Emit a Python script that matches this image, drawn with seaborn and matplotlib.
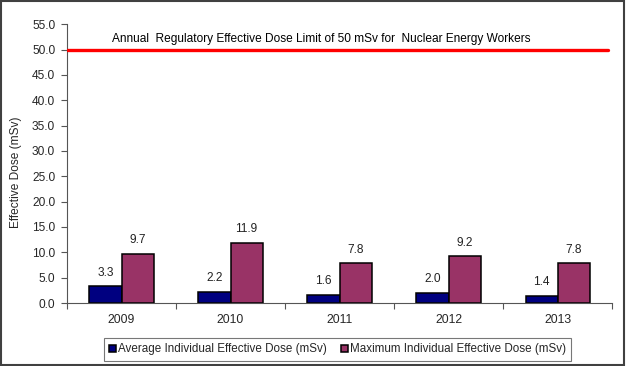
import matplotlib
matplotlib.use("Agg")
import matplotlib.pyplot as plt
import seaborn as sns
import pandas as pd
from matplotlib.patches import Rectangle

years = ["2009", "2010", "2011", "2012", "2013"]
avg_dose = [3.3, 2.2, 1.6, 2.0, 1.4]
max_dose = [9.7, 11.9, 7.8, 9.2, 7.8]
series_names = ["Average Individual Effective Dose (mSv)",
                "Maximum Individual Effective Dose (mSv)"]
limit_value = 50
limit_text = "Annual  Regulatory Effective Dose Limit of 50 mSv for  Nuclear Energy Workers"
y_ticks = [0, 5, 10, 15, 20, 25, 30, 35, 40, 45, 50, 55]

df = pd.DataFrame({
    "Year": years * 2,
    "Dose": avg_dose + max_dose,
    "Series": [series_names[0]] * len(years) + [series_names[1]] * len(years),
})

sns.set_style("white")
plt.rcParams["font.family"] = ["Liberation Sans", "DejaVu Sans"]

fig = plt.figure(figsize=(6.26, 3.66), dpi=100)
ax = fig.add_axes([0.107, 0.172, 0.871, 0.762])

sns.barplot(data=df, x="Year", y="Dose", hue="Series",
            palette=["#000080", "#993366"], saturation=1, width=0.59,
            edgecolor="black", linewidth=1.1, ax=ax, legend=True)

for cont in ax.containers:
    ax.bar_label(cont, fmt="%.1f", padding=5.5, fontsize=8.6, color="#222222")

ax.axhline(limit_value, xmin=0, xmax=0.993, color="#ff0000", lw=2.4, zorder=3)
ax.text(-0.09, limit_value + 0.9, limit_text, fontsize=8.6, ha="left", va="bottom", color="black")

ax.set_xlim(-0.5, 4.5)
ax.set_ylim(0, 55)
ax.set_yticks(y_ticks)
ax.set_yticklabels([f"{v:.1f}" for v in y_ticks], fontsize=8.6)
ax.set_xticks(range(len(years)))
ax.set_xticklabels(years, fontsize=8.8)
ax.set_xticks([i - 0.5 for i in range(len(years) + 1)], minor=True)
ax.tick_params(axis="x", which="major", length=0, pad=8)
ax.tick_params(axis="x", which="minor", length=4, width=0.8, color="#555555", direction="out", bottom=True)
ax.tick_params(axis="y", length=4.5, width=0.8, color="#555555", direction="out", left=True, pad=4)
ax.set_xlabel("")
ax.set_ylabel("Effective Dose (mSv)", fontsize=8.6)
ax.yaxis.set_label_coords(-0.082, 0.47)

for s in ["top", "right"]:
    ax.spines[s].set_visible(False)
for s in ["left", "bottom"]:
    ax.spines[s].set_color("#555555")
    ax.spines[s].set_linewidth(0.8)

handles, labels = ax.get_legend_handles_labels()
ax.legend_.remove()
leg = fig.legend(handles, labels, loc="lower center", bbox_to_anchor=(0.539, 0.005), ncol=2,
                 fontsize=8.4, frameon=True, fancybox=False, edgecolor="#555555",
                 handlelength=0.6, handleheight=0.6, handletextpad=0.15, columnspacing=1.2,
                 borderpad=0.45, borderaxespad=0.3)
leg.get_frame().set_linewidth(0.8)

fig.patches.append(Rectangle((0.002, 0.003), 0.995, 0.993, transform=fig.transFigure,
                             fill=False, edgecolor="#404040", linewidth=1.5))

fig.savefig("out.png", dpi=100)
